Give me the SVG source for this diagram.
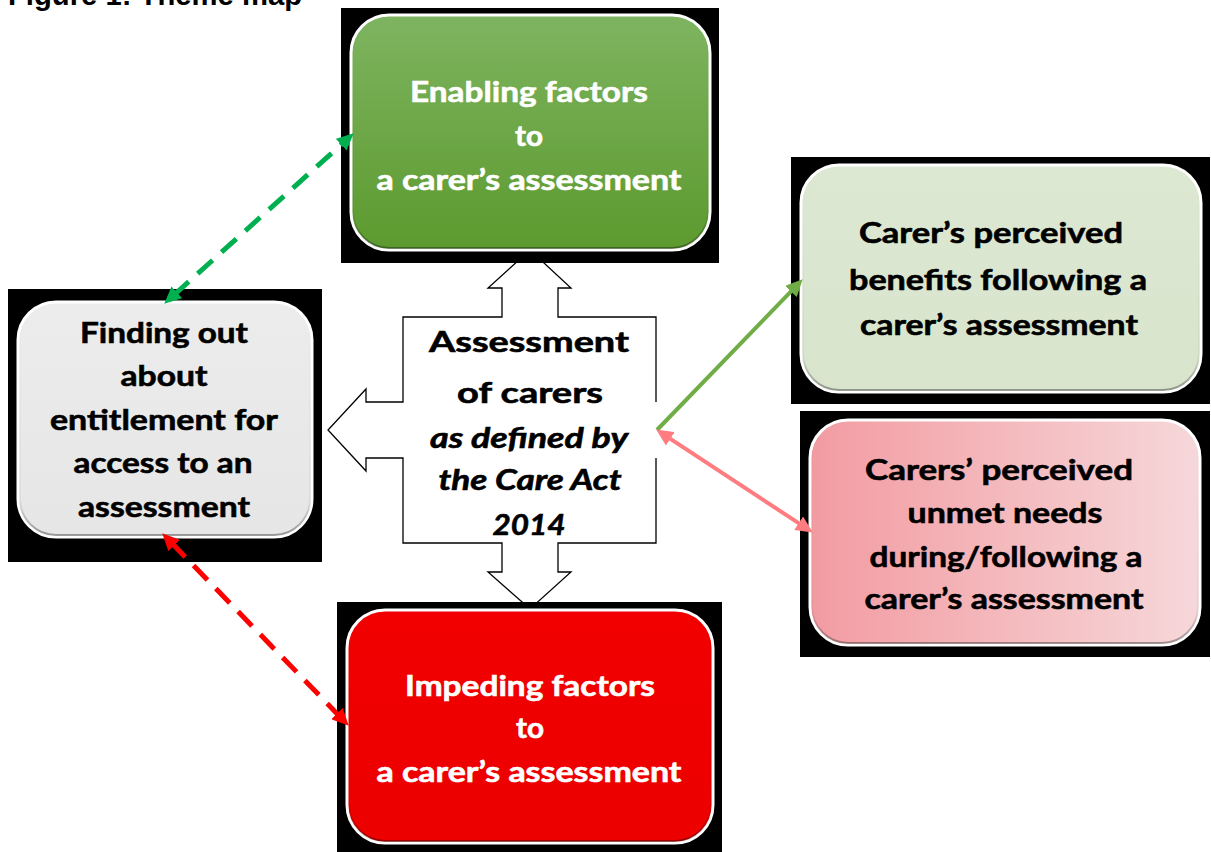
<svg xmlns="http://www.w3.org/2000/svg" width="1211" height="852" viewBox="0 0 1211 852">
<defs>
<style>
.bg{fill:#000000}
.box{stroke:#ffffff;stroke-width:3}
.edge{fill:none;stroke:url(#edgeShade);stroke-width:2}
.t{font-family:Lato,"Open Sans","Liberation Sans",sans-serif;font-weight:700;font-size:29px;text-anchor:middle;stroke-width:0.6px}
.w{fill:#ffffff;stroke:#ffffff}
.k{fill:#000000;stroke:#000000}
.it{font-style:italic}
.title{font-family:"Liberation Sans",Arial,sans-serif;font-weight:700;font-size:30px;fill:#000000}
.dashG{fill:none;stroke:#00b050;stroke-width:5;stroke-dasharray:20 12}
.dashR{fill:none;stroke:#ff0000;stroke-width:5;stroke-dasharray:20 12}
.solG{fill:none;stroke:#70ad47;stroke-width:4}
.solP{fill:none;stroke:#ff7c80;stroke-width:4}
</style>
<linearGradient id="gGreen" x1="0" y1="0" x2="0" y2="1">
<stop offset="0" stop-color="#7eb460"/>
<stop offset="1" stop-color="#5c9a2e"/>
</linearGradient>
<linearGradient id="gRed" x1="0" y1="0" x2="0" y2="1">
<stop offset="0" stop-color="#f20000"/>
<stop offset="1" stop-color="#ec0000"/>
</linearGradient>
<linearGradient id="gGrey" x1="0" y1="0" x2="0" y2="1">
<stop offset="0" stop-color="#ececec"/>
<stop offset="1" stop-color="#e6e6e6"/>
</linearGradient>
<linearGradient id="gLGreen" x1="0" y1="0" x2="0" y2="1">
<stop offset="0" stop-color="#dde8d3"/>
<stop offset="1" stop-color="#d8e4cc"/>
</linearGradient>
<linearGradient id="gPink" x1="0" y1="0" x2="1" y2="0">
<stop offset="0" stop-color="#f29ba1"/>
<stop offset="1" stop-color="#f6d8da"/>
</linearGradient>
<linearGradient id="edgeShade" x1="0" y1="0" x2="0" y2="1">
<stop offset="0" stop-color="#000000" stop-opacity="0"/>
<stop offset="0.85" stop-color="#000000" stop-opacity="0.05"/>
<stop offset="1" stop-color="#000000" stop-opacity="0.35"/>
</linearGradient>
<marker id="ahG" markerUnits="userSpaceOnUse" markerWidth="18" markerHeight="16" refX="4" refY="8" orient="auto-start-reverse" viewBox="0 0 18 16">
<path d="M0,0 L17,8 L0,16 Z" fill="#00b050"/>
</marker>
<marker id="ahR" markerUnits="userSpaceOnUse" markerWidth="18" markerHeight="16" refX="4" refY="8" orient="auto-start-reverse" viewBox="0 0 18 16">
<path d="M0,0 L17,8 L0,16 Z" fill="#ff0000"/>
</marker>
<marker id="ahLG" markerUnits="userSpaceOnUse" markerWidth="17" markerHeight="16" refX="4" refY="8" orient="auto-start-reverse" viewBox="0 0 17 16">
<path d="M0,0 L17,8 L0,16 Z" fill="#70ad47"/>
</marker>
<marker id="ahP" markerUnits="userSpaceOnUse" markerWidth="17" markerHeight="16" refX="4" refY="8" orient="auto-start-reverse" viewBox="0 0 17 16">
<path d="M0,0 L17,8 L0,16 Z" fill="#ff7c80"/>
</marker>
</defs>
<rect width="1211" height="852" fill="#ffffff"/>
<text class="title" x="8" y="5" textLength="294" lengthAdjust="spacingAndGlyphs">Figure 1: Theme map</text>

<g id="center">
<path d="M530,250 L571,288 L558,288 L558,317 L656,317 L656,543 L558,543 L558,572 L571,572 L530,609 L488,572 L502,572 L502,543 L403,543 L403,458 L366,458 L366,471 L328,430 L366,389 L366,402 L403,402 L403,317 L502,317 L502,288 L488,288 Z" fill="#ffffff"/>
<path d="M656,402 L656,317 L558,317 L558,288 L571,288 L530,250 L488,288 L502,288 L502,317 L403,317 L403,402 L366,402 L366,389 L328,430 L366,471 L366,458 L403,458 L403,543 L502,543 L502,572 L488,572 L530,609 L571,572 L558,572 L558,543 L656,543 L656,458" fill="none" stroke="#000000" stroke-width="1.3" stroke-linejoin="miter"/>
<text class="t k" x="529" y="352" font-size="31" textLength="200" lengthAdjust="spacingAndGlyphs">Assessment</text>
<text class="t k" x="530" y="403" font-size="31" textLength="146" lengthAdjust="spacingAndGlyphs">of carers</text>
<text class="t k it" x="529" y="448" font-size="28" textLength="198" lengthAdjust="spacingAndGlyphs">as defined by</text>
<text class="t k it" x="530" y="490" font-size="28" textLength="183" lengthAdjust="spacingAndGlyphs">the Care Act</text>
<text class="t k it" x="529" y="535" font-size="28" textLength="73" lengthAdjust="spacingAndGlyphs">2014</text>
</g>

<g id="enabling">
<rect class="bg" x="341" y="8" width="378" height="255"/>
<rect class="box" x="351" y="15" width="359" height="235" rx="38" fill="url(#gGreen)"/>
<rect class="edge" x="353" y="17" width="355" height="231" rx="36"/>
<text class="t w" x="529" y="102" textLength="238" lengthAdjust="spacingAndGlyphs">Enabling factors</text>
<text class="t w" x="529" y="146" textLength="28" lengthAdjust="spacingAndGlyphs">to</text>
<text class="t w" x="529" y="190" textLength="305" lengthAdjust="spacingAndGlyphs">a carer’s assessment</text>
</g>

<g id="benefits">
<rect class="bg" x="791" y="157" width="419" height="247"/>
<rect class="box" x="801" y="165" width="400" height="227" rx="38" fill="url(#gLGreen)"/>
<rect class="edge" x="803" y="167" width="396" height="223" rx="36"/>
<text class="t k" x="991" y="243" textLength="264" lengthAdjust="spacingAndGlyphs">Carer’s perceived</text>
<text class="t k" x="998" y="290" textLength="298" lengthAdjust="spacingAndGlyphs">benefits following a</text>
<text class="t k" x="999" y="335" textLength="278" lengthAdjust="spacingAndGlyphs">carer’s assessment</text>
</g>

<g id="unmet">
<rect class="bg" x="800" y="411" width="410" height="246"/>
<rect class="box" x="810" y="420" width="390" height="225" rx="38" fill="url(#gPink)"/>
<rect class="edge" x="812" y="422" width="386" height="221" rx="36"/>
<text class="t k" x="999" y="480" textLength="268" lengthAdjust="spacingAndGlyphs">Carers’ perceived</text>
<text class="t k" x="1005" y="523" textLength="195" lengthAdjust="spacingAndGlyphs">unmet needs</text>
<text class="t k" x="1006" y="567" textLength="273" lengthAdjust="spacingAndGlyphs">during/following a</text>
<text class="t k" x="1004" y="609" textLength="279" lengthAdjust="spacingAndGlyphs">carer’s assessment</text>
</g>

<g id="finding">
<rect class="bg" x="8" y="289" width="314" height="273"/>
<rect class="box" x="18" y="302" width="294" height="235" rx="38" fill="url(#gGrey)"/>
<rect class="edge" x="20" y="304" width="290" height="231" rx="36"/>
<text class="t k" x="164" y="343" textLength="168" lengthAdjust="spacingAndGlyphs">Finding out</text>
<text class="t k" x="164" y="386" textLength="87" lengthAdjust="spacingAndGlyphs">about</text>
<text class="t k" x="164" y="430" textLength="228" lengthAdjust="spacingAndGlyphs">entitlement for</text>
<text class="t k" x="163" y="473" textLength="179" lengthAdjust="spacingAndGlyphs">access to an</text>
<text class="t k" x="164" y="517" textLength="172" lengthAdjust="spacingAndGlyphs">assessment</text>
</g>

<g id="impeding">
<rect class="bg" x="337" y="602" width="385" height="250"/>
<rect class="box" x="347" y="610" width="366" height="233" rx="38" fill="url(#gRed)"/>
<rect class="edge" x="349" y="612" width="362" height="229" rx="36"/>
<text class="t w" x="530" y="696" textLength="250" lengthAdjust="spacingAndGlyphs">Impeding factors</text>
<text class="t w" x="530" y="738" textLength="28" lengthAdjust="spacingAndGlyphs">to</text>
<text class="t w" x="529" y="782" textLength="305" lengthAdjust="spacingAndGlyphs">a carer’s assessment</text>
</g>

<g id="connectors">
<line class="dashG" x1="173.9" y1="295.0" x2="344.1" y2="142.0" marker-start="url(#ahG)" marker-end="url(#ahG)"/>
<line class="dashR" x1="171.3" y1="542.6" x2="339.7" y2="716.4" marker-start="url(#ahR)" marker-end="url(#ahR)"/>
<line class="solG" x1="657" y1="430" x2="793.7" y2="288.6" marker-end="url(#ahLG)"/>
<line class="solP" x1="667.0" y1="436.6" x2="802.0" y2="525.4" marker-start="url(#ahP)" marker-end="url(#ahP)"/>
</g>
</svg>
